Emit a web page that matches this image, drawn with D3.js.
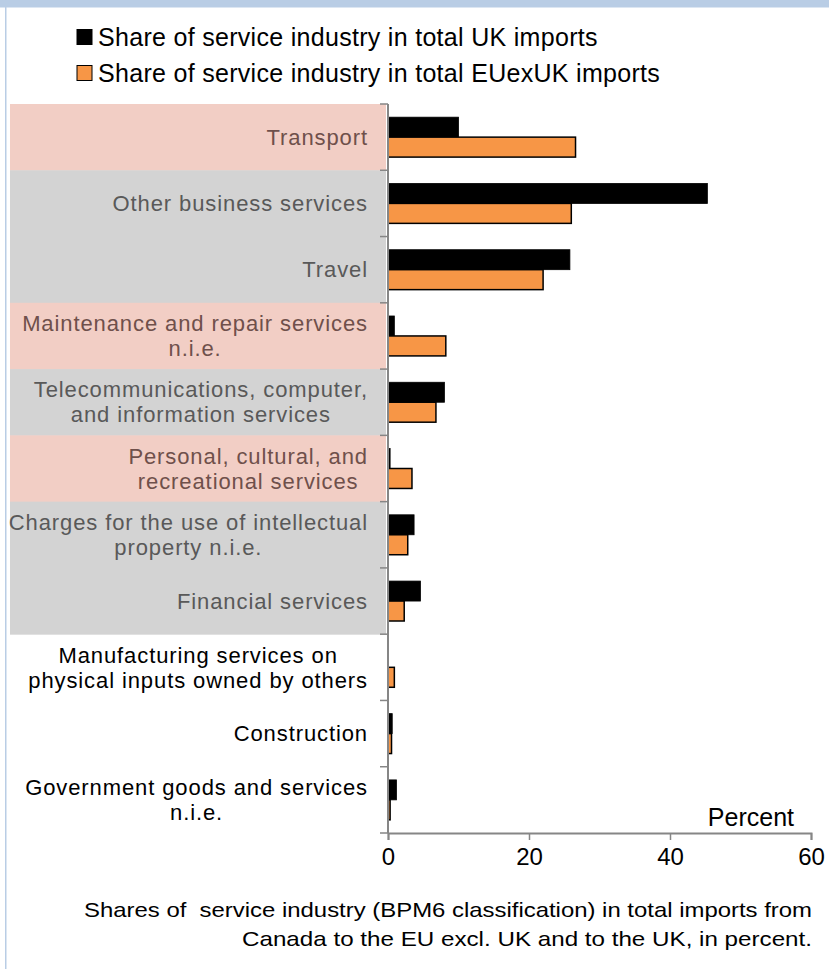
<!DOCTYPE html>
<html><head><meta charset="utf-8">
<script src="https://cdn.jsdelivr.net/npm/d3@7"></script>
<style>
html,body{margin:0;padding:0;background:#fff;}
text{font-family:"Liberation Sans",Arial,sans-serif;}
</style></head>
<body>
<svg id="chart" width="829" height="969"></svg>
<script>
const categories = [
  ["Transport"],
  ["Other business services"],
  ["Travel"],
  ["Maintenance and repair services","n.i.e."],
  ["Telecommunications, computer,","and information services"],
  ["Personal, cultural, and","recreational services"],
  ["Charges for the use of intellectual","property n.i.e."],
  ["Financial services"],
  ["Manufacturing services on","physical inputs owned by others"],
  ["Construction"],
  ["Government goods and services","n.i.e."]
];
const highlight = ["pink","grey","grey","pink","grey","pink","grey","grey","none","none","none"];
const ukValues   = [10.0, 45.3, 25.8, 0.9, 8.0, 0.3, 3.7, 4.6, 0.0, 0.6, 1.2];
const euValues   = [26.6, 26.0, 22.0, 8.2, 6.8, 3.4, 2.8, 2.3, 0.9, 0.5, 0.3];
const seriesNames = ["Share of service industry in total UK imports","Share of service industry in total EUexUK imports"];
const seriesColors = ["#000000","#f79646"];
const xTicks = [0,20,40,60];
const captionLines = ["Shares of  service industry (BPM6 classification) in total imports from","Canada to the EU excl. UK and to the UK, in percent."];

const svg = d3.select("#chart");
// frame
svg.append("rect").attr("x",0).attr("y",0).attr("width",829).attr("height",7.5).attr("fill","#b9cde5");
svg.append("rect").attr("x",5).attr("y",0).attr("width",1.5).attr("height",969).attr("fill","#b9cde5");

const x = d3.scaleLinear().domain([0,60]).range([388,811]);
const keys = categories.map((d,i)=>i);
const y = d3.scaleBand().domain(keys).range([104,833]).paddingInner(0).paddingOuter(0);
const sub = d3.scaleBand().domain([0,1]).range([0,y.bandwidth()]).paddingInner(0).paddingOuter(0.66);

const bandColors = {pink:"#f2cec5", grey:"#d3d3d3"};
const textColors = {pink:"#6f504b", grey:"#595959", none:"#000000"};

// band backgrounds
svg.append("g").selectAll("rect").data(keys.filter(i=>highlight[i]!=="none")).join("rect")
  .attr("x",10).attr("y",i=>y(i)).attr("width",376).attr("height",y.bandwidth()+0.5)
  .attr("fill",i=>bandColors[highlight[i]]);

// labels
const lblG = svg.append("g");
keys.forEach(i=>{
  const lines = categories[i];
  const g = lblG.append("g");
  const lh = 25;
  const cy = y(i)+y.bandwidth()/2;
  const ts = lines.map((s,j)=> g.append("text")
      .attr("y", cy + (j-(lines.length-1)/2)*lh)
      .attr("dy","0.35em")
      .attr("font-size",22)
      .attr("letter-spacing",0.9)
      .attr("fill",textColors[highlight[i]])
      .attr("text-anchor","middle")
      .text(s));
  const maxW = d3.max(ts, t=>t.node().getComputedTextLength());
  ts.forEach(t=>t.attr("x", 368 - maxW/2));
});

// bars
const vals = [ukValues, euValues];
const barG = svg.append("g");
keys.forEach(i=>{
  [0,1].forEach(s=>{
    const v = vals[s][i];
    if (v<=0) return;
    barG.append("rect")
      .attr("x",x(0)).attr("y",y(i)+sub(s))
      .attr("width",x(v)-x(0)).attr("height",sub.bandwidth())
      .attr("fill",seriesColors[s])
      .attr("stroke","#000").attr("stroke-width",s===1?1.5:0.8);
  });
});

// y axis line and ticks at band boundaries
const axG = svg.append("g");
axG.append("line").attr("x1",388).attr("x2",388).attr("y1",104).attr("y2",833).attr("stroke","#868686").attr("stroke-width",2);
const bounds = keys.map(i=>y(i)).concat([y.range()[1]]);
axG.selectAll("line.yt").data(bounds).join("line").attr("class","yt")
  .attr("x1",380).attr("x2",388).attr("y1",d=>d).attr("y2",d=>d)
  .attr("stroke","#868686").attr("stroke-width",1.5);

// x axis
const xAxis = d3.axisBottom(x).tickValues(xTicks).tickSize(7).tickPadding(8).tickFormat(d3.format("d"));
const xg = svg.append("g").attr("transform","translate(0,833)").call(xAxis);
xg.select(".domain").attr("stroke","#868686").attr("stroke-width",2);
xg.selectAll(".tick line").attr("stroke","#868686").attr("stroke-width",1.5);
xg.selectAll(".tick text").attr("font-size",24).attr("fill","#000").attr("font-family","Liberation Sans, Arial, sans-serif");

svg.append("text").attr("x",794).attr("y",826).attr("text-anchor","end").attr("font-size",25).text("Percent");

// legend
const leg = svg.append("g");
seriesNames.forEach((n,s)=>{
  const cy = 37 + s*36;
  leg.append("rect").attr("x",77).attr("y",cy-7.5).attr("width",15).attr("height",15)
    .attr("fill",seriesColors[s]).attr("stroke","#000").attr("stroke-width",1);
  leg.append("text").attr("x",98).attr("y",cy).attr("dy","0.35em").attr("font-size",25).attr("letter-spacing",0.3).text(n);
});

// caption
captionLines.forEach((c,j)=>{
  svg.append("text").attr("x",812).attr("y",917 + j*29)
    .attr("text-anchor","end").attr("font-size",21).style("white-space","pre")
    .attr("textLength", j===0?728:570).attr("lengthAdjust","spacingAndGlyphs")
    .text(c);
});
</script>
</body></html>
